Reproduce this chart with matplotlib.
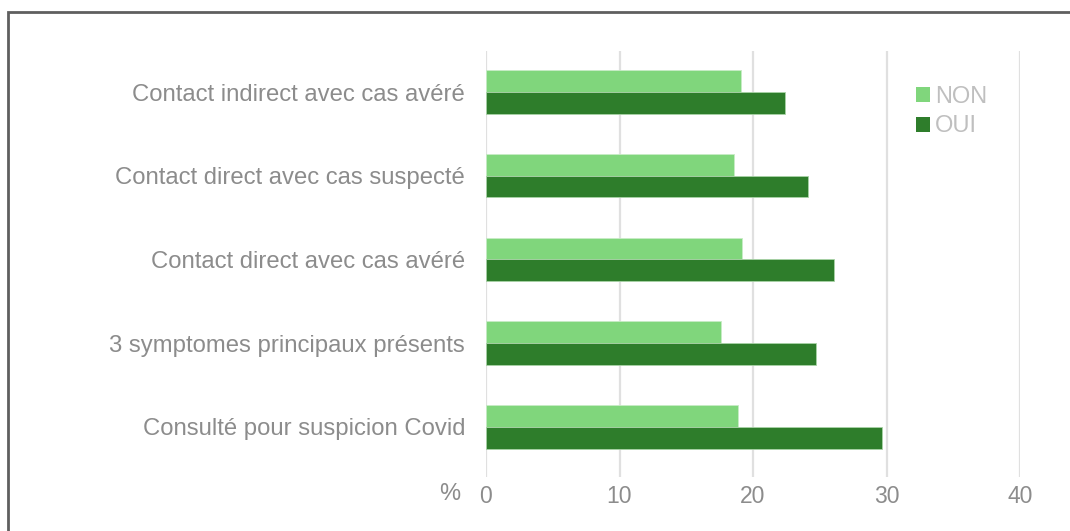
import matplotlib.pyplot as plt
import numpy as np
from matplotlib.patches import Rectangle, Patch

categories = ["Contact indirect avec cas avéré",
              "Contact direct avec cas suspecté",
              "Contact direct avec cas avéré",
              "3 symptomes principaux présents",
              "Consulté pour suspicion Covid"]
non_vals = [19.1, 18.6, 19.2, 17.6, 18.9]
oui_vals = [22.4, 24.1, 26.1, 24.7, 29.7]
x_ticks = [0, 10, 20, 30, 40]

col_non = "#80d67c"
col_oui = "#2e7d2b"
txt = "#8c8c8c"

plt.rcParams["font.family"] = ["Liberation Sans", "DejaVu Sans"]

fig = plt.figure(figsize=(10.7, 5.31), dpi=100)
ax = fig.add_axes([486 / 1070, 1 - 477 / 531, (1020 - 486) / 1070, (477 - 51) / 531])

y = np.arange(len(categories))
h = 0.26
ax.barh(y - h / 2, non_vals, height=h, color=col_non, edgecolor="#c8ecc6", linewidth=0.6, zorder=3)
ax.barh(y + h / 2, oui_vals, height=h, color=col_oui, edgecolor="#a9d3a7", linewidth=0.6, zorder=3)

ax.set_xlim(0, 40)
ax.set_ylim(4.6, -0.49)
ax.set_xticks(x_ticks)
ax.set_xticklabels([str(t) for t in x_ticks], fontsize=16.5, color=txt)
ax.set_yticks(y)
ax.set_yticklabels(categories, fontsize=17.2, color=txt)
ax.tick_params(axis="both", length=0)
ax.tick_params(axis="y", pad=15)
ax.tick_params(axis="x", pad=6)
for s in ax.spines.values():
    s.set_visible(False)
ax.grid(axis="x", color="#e0e0e0", linewidth=1.6, zorder=0)

fig.text(450 / 1070, 1 - 494 / 531, "%", fontsize=17, color=txt, ha="center", va="center")

handles = [Patch(facecolor=col_non, label="NON"), Patch(facecolor=col_oui, label="OUI")]
leg = fig.legend(handles=handles, loc="upper left", bbox_to_anchor=(895 / 1070, 1 - 65 / 531),
                 frameon=False, fontsize=17, handlelength=0.6, handleheight=0.6,
                 handletextpad=0.2, labelspacing=0.3)
for t in leg.get_texts():
    t.set_color("#bfbfbf")

# outer frame, cut off on right and bottom
fig.patches.append(Rectangle((8 / 1070, -0.05), 1.2, 1 - 12 / 531 + 0.05, transform=fig.transFigure,
                             fill=False, edgecolor="#5f5f5f", linewidth=2))

fig.savefig("out.png", dpi=100)
